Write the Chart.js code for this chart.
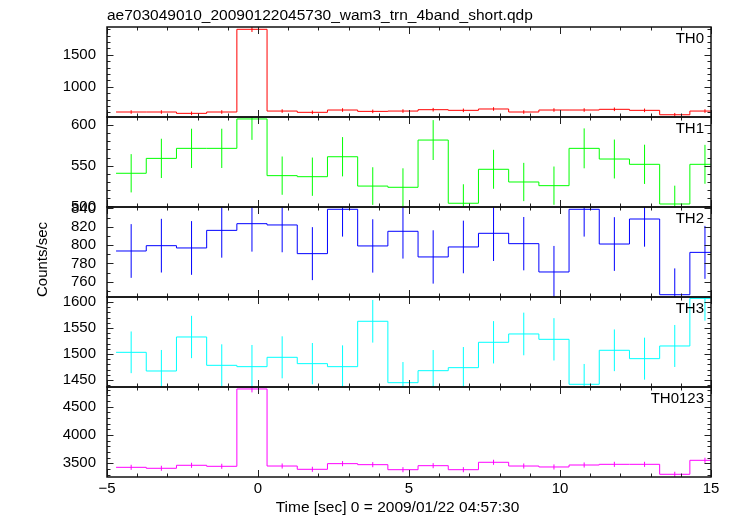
<!DOCTYPE html>
<html>
<head>
<meta charset="utf-8">
<script src="https://cdn.jsdelivr.net/npm/chart.js@4/dist/chart.umd.min.js"></script>
<style>
html,body{margin:0;padding:0;background:#fff;}
#wrap{width:733px;height:516px;position:relative;}
</style>
</head>
<body>
<div id="wrap"><canvas id="c" width="733" height="516"></canvas></div>
<script>
// ---- data ----
const categories = [-4.2,-3.2,-2.2,-1.2,-0.2,0.8,1.8,2.8,3.8,4.8,5.8,6.8,7.8,8.8,9.8,10.8,11.8,12.8,13.8,14.8]; // bin centres [s]
const binWidth = 1.0;
const th0     = [605,605,584,605,1897,620,600,636,615,620,641,631,652,605,636,636,647,631,562,620];
const th0Err  = [28,28,28,28,42,28,28,28,28,28,28,28,28,28,28,28,28,28,28,28];
const th1     = [540.7,559,571.3,571.3,607.4,537.8,536.5,561,525,523.5,581.5,503.9,545.6,530,525.5,571.3,558.2,551.7,503,551.7];
const th1Err  = [23.5,24.1,24.1,24.1,25.7,23.5,23.5,24.1,23.1,23.3,24.5,23.3,23.9,23.5,23.5,24.5,23.9,24.1,22.5,23.9];
const th2     = [793.5,799.3,796.8,816,823.3,821.9,790.6,839,799,815,787,797.9,812.8,801.5,770.6,839,801.1,828.4,745.8,792];
const th2Err  = [29.3,29.3,29.3,29.8,30.5,29.8,28.9,29.8,29.1,29.8,29.1,28.7,30.2,29.1,28.4,29.8,29.3,30.2,28.7,28.9];
const th3     = [1503.2,1467.3,1532.7,1478.2,1475.6,1493.6,1481.4,1475.6,1562.9,1444.8,1467.9,1473.7,1522.5,1538.5,1528.2,1441.7,1507.1,1491,1515.4,1607];
const th3Err  = [40.1,40.4,40.7,40.4,41.7,40.4,39.7,41,41,39.7,39.7,39.7,40.7,41,40.7,39.1,40.1,40.4,40.4,42.9];
const th0123    = [3429,3412,3465,3447,4813,3452,3394,3494,3476,3387,3458,3387,3518,3452,3435,3470,3482,3482,3306,3553];
const th0123Err = [45,45,45,45,60,45,45,45,45,45,45,45,45,45,45,45,45,45,45,45];

const panelNames = ['TH0','TH1','TH2','TH3','TH0123'];
const seriesValues = [th0, th1, th2, th3, th0123];
const seriesErrors = [th0Err, th1Err, th2Err, th3Err, th0123Err];
const yMajorTicks = [[1000,1500],[500,550,600],[760,780,800,820,840],[1450,1500,1550,1600],[3500,4000,4500]];
const xTickLabels = [-5,0,5,10,15];
const titleText = 'ae703049010_20090122045730_wam3_trn_4band_short.qdp';
const xTitle = 'Time [sec] 0 = 2009/01/22 04:57:30';
const yTitle = 'Counts/sec';

// ---- styling / layout ----
const colors = ['#ff0000','#00ff00','#0000ff','#00ffff','#ff00ff'];
const yRanges = [[527,1933],[499.3,609.8],[743.3,841.5],[1436.5,1609.6],[3258,4848]];
const yMinorStep = [100,10,10,10,100];
const FONT = '"Liberation Sans", Arial, Helvetica, sans-serif';
const ids = ['y0','y1','y2','y3','y4'];

const datasets = [];
ids.forEach((id, i) => {
  const vals = seriesValues[i], errs = seriesErrors[i];
  const step = categories.map((c, k) => ({x: c - binWidth / 2, y: vals[k]}));
  step.push({x: categories[categories.length - 1] + binWidth / 2, y: vals[vals.length - 1]});
  datasets.push({
    label: panelNames[i], data: step, yAxisID: id, stepped: true,
    borderColor: colors[i], borderWidth: 1, pointRadius: 0, fill: false
  });
  const eb = [];
  categories.forEach((c, k) => {
    eb.push({x: c, y: vals[k] - errs[k]});
    eb.push({x: c, y: vals[k] + errs[k]});
    eb.push({x: c, y: null});
  });
  datasets.push({
    label: panelNames[i] + ' err', data: eb, yAxisID: id, spanGaps: false,
    borderColor: colors[i], borderWidth: 1, pointRadius: 0, fill: false
  });
});

const scales = {
  x: {
    type: 'linear', min: -5, max: 15,
    grid: {display: false, drawTicks: false}, border: {display: false},
    afterBuildTicks: (ax) => { ax.ticks = xTickLabels.map(v => ({value: v})); },
    afterFit: (ax) => { ax.height = 39; },
    ticks: {
      color: '#000', padding: 3, maxRotation: 0, autoSkip: false,
      font: {family: FONT, size: 15},
      callback: (v) => (v < 0 ? '\u2212' + Math.abs(v) : String(v))
    }
  }
};
ids.forEach((id, i) => {
  scales[id] = {
    type: 'linear', position: 'left', stack: 'panels', stackWeight: 1, weight: 5 - i,
    min: yRanges[i][0], max: yRanges[i][1],
    grid: {display: false, drawTicks: false}, border: {display: false},
    afterBuildTicks: (ax) => { ax.ticks = yMajorTicks[i].map(v => ({value: v})); },
    afterFit: (ax) => { ax.width = 107; },
    ticks: {color: '#000', padding: 11, autoSkip: false, font: {family: FONT, size: 15},
            callback: (v) => String(v)}
  };
});

const framePlugin = {
  id: 'frames',
  afterDatasetsDraw(chart) {
    const ctx = chart.ctx, xs = chart.scales.x, ca = chart.chartArea;
    ctx.save();
    ctx.strokeStyle = '#222';
    ctx.lineWidth = 1;
    ids.forEach((id, i) => {
      const ys = chart.scales[id];
      const L = ca.left, R = ca.right, T = ys.top, B = ys.bottom;
      ctx.beginPath();
      for (let v = -5; v <= 15; v += 1) {
        const px = Math.round(xs.getPixelForValue(v)) + 0.5;
        const len = (v % 5 === 0) ? 7 : 3.5;
        ctx.moveTo(px, T); ctx.lineTo(px, T + len);
        ctx.moveTo(px, B); ctx.lineTo(px, B - len);
      }
      const st = yMinorStep[i];
      for (let v = Math.ceil(ys.min / st) * st; v <= ys.max; v += st) {
        const py = Math.round(ys.getPixelForValue(v)) + 0.5;
        const major = yMajorTicks[i].indexOf(v) >= 0;
        const len = major ? 6.5 : 3.5;
        ctx.moveTo(L, py); ctx.lineTo(L + len, py);
        ctx.moveTo(R, py); ctx.lineTo(R - len, py);
      }
      ctx.stroke();
    });
    ctx.lineWidth = 1.5;
    ctx.strokeStyle = '#111';
    ids.forEach((id) => {
      const ys = chart.scales[id];
      ctx.strokeRect(ca.left, ys.top, ca.right - ca.left, ys.bottom - ys.top);
    });
    ctx.restore();
  },
  afterDraw(chart) {
    const ctx = chart.ctx, ca = chart.chartArea;
    ctx.save();
    ctx.fillStyle = '#000';
    ctx.font = '15.5px ' + FONT;
    ctx.textBaseline = 'alphabetic';
    ctx.textAlign = 'left';
    ctx.fillText(titleText, ca.left, 19.5);
    ctx.textAlign = 'center';
    ctx.fillText(xTitle, 397.5, 512);
    ctx.save();
    ctx.font = '15px ' + FONT;
    ctx.translate(46.5, 259.5);
    ctx.rotate(-Math.PI / 2);
    ctx.fillText(yTitle, 0, 0);
    ctx.restore();
    ctx.font = '15px ' + FONT;
    ctx.textAlign = 'right';
    ids.forEach((id, i) => {
      const ys = chart.scales[id];
      ctx.fillText(panelNames[i], ca.right - 7, ys.top + 16);
    });
    ctx.restore();
  }
};

new Chart(document.getElementById('c'), {
  type: 'line',
  data: {datasets},
  options: {
    responsive: false, animation: false, devicePixelRatio: 1,
    layout: {padding: {left: 0, right: 22, top: 27, bottom: 0}},
    plugins: {legend: {display: false}, tooltip: {enabled: false}, title: {display: false}},
    scales
  },
  plugins: [framePlugin]
});
</script>
</body>
</html>
